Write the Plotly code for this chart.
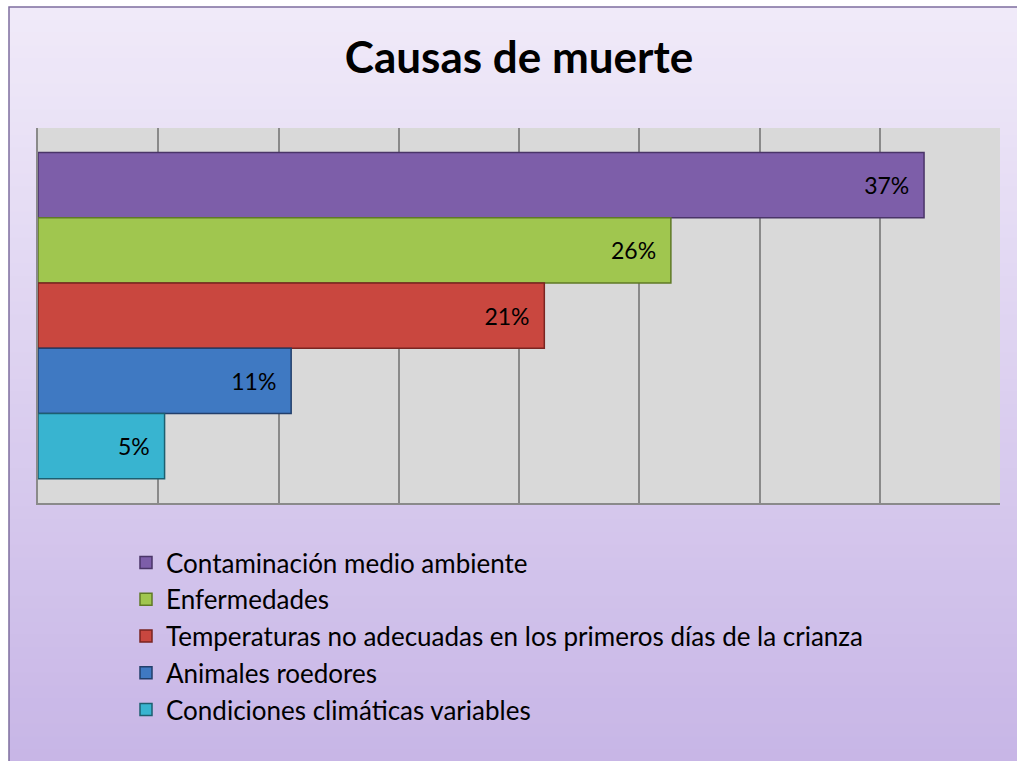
import plotly.graph_objects as go

# data: 19 cases, shown as shares
causes = [
    "Contaminación medio ambiente",
    "Enfermedades",
    "Temperaturas no adecuadas en los primeros días de la crianza",
    "Animales roedores",
    "Condiciones climáticas variables",
]
shares = [7 / 19, 5 / 19, 4 / 19, 2 / 19, 1 / 19]
labels = ["37%", "26%", "21%", "11%", "5%"]
colors = ["#7d5ea9", "#a0c64f", "#c9473f", "#3f79c2", "#38b4d0"]
edges = ["#4a3568", "#5f7a26", "#7a2521", "#223f6b", "#1d5f70"]

W, H = 1017, 761
L, R, T, B = 38, 17, 128, 761 - 503
pw, ph = W - L - R, H - T - B


def px2paper(x, y):
    return (x - L) / pw, (H - B - y) / ph


fig = go.Figure()
for i, (name, v, lab) in enumerate(zip(causes, shares, labels)):
    fig.add_trace(go.Bar(
        y=[""], x=[v], orientation="h", name=name,
        marker=dict(color=colors[i], line=dict(color=edges[i], width=1.5)),
        text=[lab + "&nbsp;&nbsp;"], textposition="inside", insidetextanchor="end",
        textfont=dict(color="black", size=23, family="Lato"),
        legendgroup=str(i), hoverinfo="skip",
    ))

# lavender gradient background behind the chart box
shapes = []
n = 60
top_c, bot_c = (240, 234, 249), (199, 181, 230)
y_top, y_bot = 7, 775
for k in range(n):
    f = k / (n - 1)
    c = tuple(round(a + (b - a) * f) for a, b in zip(top_c, bot_c))
    ya = y_top + (y_bot - y_top) * k / n
    yb = y_top + (y_bot - y_top) * (k + 1) / n + 1
    x0, y0 = px2paper(9, ya)
    x1, y1 = px2paper(1040, yb)
    shapes.append(dict(type="rect", xref="paper", yref="paper", x0=x0, x1=x1, y0=y0, y1=y1,
                       fillcolor="rgb(%d,%d,%d)" % c, line=dict(width=0), layer="below"))
bx0, by0 = px2paper(9, 7)
bx1, by1 = px2paper(1040, 775)
shapes.append(dict(type="rect", xref="paper", yref="paper", x0=bx0, x1=bx1, y0=by1, y1=by0,
                   fillcolor="rgba(0,0,0,0)", line=dict(color="#7e6d9e", width=1.5), layer="below"))
# plot area grey panel
shapes.append(dict(type="rect", xref="paper", yref="paper", x0=0, x1=1, y0=0, y1=1,
                   fillcolor="#d9d9d9", line=dict(width=0), layer="below"))

lx, ly = px2paper(126, 539)

fig.update_layout(
    width=W, height=H,
    margin=dict(l=L, r=R, t=T, b=B),
    paper_bgcolor="white",
    plot_bgcolor="rgba(0,0,0,0)",
    barmode="group", bargap=0.13, bargroupgap=0,
    title=dict(text="<b>Causas de muerte</b>", x=(519 - L) / pw, xref="paper",
               xanchor="center", y=1 - 58 / H, yanchor="middle",
               font=dict(family="Lato", size=44, color="black")),
    font=dict(family="Lato"),
    xaxis=dict(range=[0, 0.40], dtick=0.05, showticklabels=False, showgrid=True,
               gridcolor="#8a8a8a", gridwidth=1.5, zeroline=False,
               showline=True, linecolor="#8a8a8a", linewidth=1.5, ticks=""),
    yaxis=dict(autorange="reversed", showticklabels=False, showgrid=False, zeroline=False,
               showline=True, linecolor="#8a8a8a", linewidth=1.5, ticks=""),
    showlegend=True,
    legend=dict(x=lx, y=ly, xanchor="left", yanchor="top", traceorder="grouped",
                tracegroupgap=0, bgcolor="rgba(0,0,0,0)",
                font=dict(family="Lato", size=26, color="black"), itemwidth=30),
    shapes=shapes,
)

# drop the browser's default body margin so the figure fills the window
fig.write_html("out.html", config={"displayModeBar": False},
               post_script="document.body.style.margin='0';document.body.style.overflow='hidden';")
